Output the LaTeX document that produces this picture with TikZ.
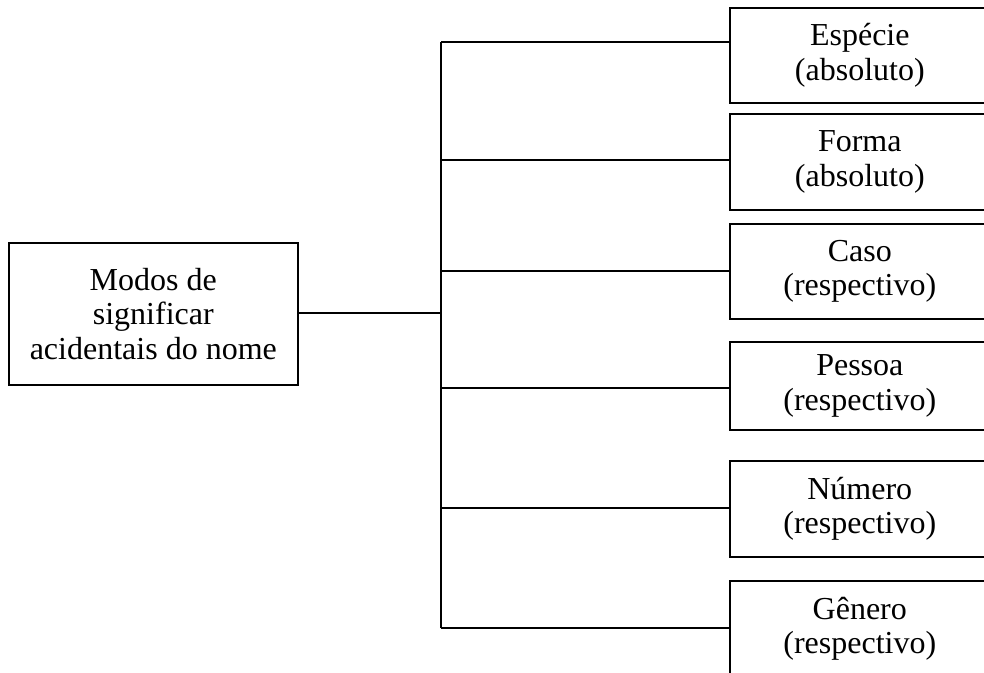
\documentclass[tikz,border=0pt]{standalone}
\usepackage{fontspec}
\setmainfont{Liberation Serif}
\begin{document}
\begin{tikzpicture}[x=1pt,y=-1pt,
  box/.style={draw,line width=1.6pt,align=center,inner sep=0pt,
    font=\fontsize{32}{34.5}\selectfont},
  rbox/.style={box,anchor=north west,minimum width=260pt},
  link/.style={line width=1.6pt}]
\useasboundingbox (0,0) rectangle (984,672);
\clip (0,0) rectangle (984,672);

% root box
\node[box,anchor=north west,minimum width=289pt,minimum height=142pt]
  (root) at (8,242) {Modos de\\significar\\acidentais do nome};

% category boxes
\node[rbox,minimum height=95pt] (b1) at (729,7)   {Espécie\\(absoluto)};
\node[rbox,minimum height=96pt] (b2) at (729,113) {Forma\\(absoluto)};
\node[rbox,minimum height=95pt] (b3) at (729,223) {Caso\\(respectivo)};
\node[rbox,minimum height=88pt] (b4) at (729,341) {Pessoa\\(respectivo)};
\node[rbox,minimum height=96pt] (b5) at (729,460) {Número\\(respectivo)};
\node[rbox,minimum height=96pt] (b6) at (729,580) {Gênero\\(respectivo)};

% branch points on the trunk
\coordinate (hub) at (441,313);
\coordinate (t1) at (441,42);
\coordinate (t2) at (441,160);
\coordinate (t3) at (441,271);
\coordinate (t4) at (441,388);
\coordinate (t5) at (441,508);
\coordinate (t6) at (441,628);

\draw[link] (root.east |- hub) -- (hub);
\draw[link] (t1) -- (t6);
\foreach \i in {1,...,6}
  \draw[link] (t\i) -- (t\i -| b\i.west);
\end{tikzpicture}
\end{document}
